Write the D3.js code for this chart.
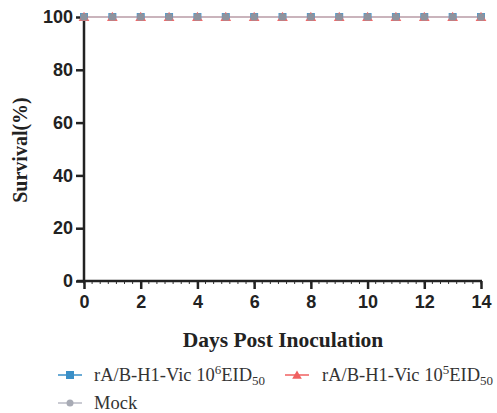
<!DOCTYPE html>
<html><head><meta charset="utf-8">
<script src="https://cdn.jsdelivr.net/npm/d3@7"></script>
<style>body{margin:0;background:#fff}svg{display:block}</style>
</head><body>
<svg id="c" width="497" height="413"></svg>
<script>
const days = [0,1,2,3,4,5,6,7,8,9,10,11,12,13,14];
const highDose = [100,100,100,100,100,100,100,100,100,100,100,100,100,100,100];
const lowDose  = [100,100,100,100,100,100,100,100,100,100,100,100,100,100,100];
const mock     = [100,100,100,100,100,100,100,100,100,100,100,100,100,100,100];
const xTicks = [0,2,4,6,8,10,12,14];
const yTicks = [0,20,40,60,80,100];
const seriesNames = ["rA/B-H1-Vic 10", "rA/B-H1-Vic 10", "Mock"];

const svg = d3.select("#c");
const x = d3.scaleLinear().domain([0,14]).range([84,481]);
const y = d3.scaleLinear().domain([0,100]).range([281,17]);

// minor x ticks
const minor = d3.range(0, 14.0001, 2/7);
svg.append("g").selectAll("line").data(minor).join("line")
  .attr("x1", d=>x(d)).attr("x2", d=>x(d)).attr("y1", 281).attr("y2", 284)
  .attr("stroke","#333").attr("stroke-width",1);

// x axis
const xa = svg.append("g").attr("transform","translate(0,281)")
  .call(d3.axisBottom(x).tickValues(xTicks).tickSize(8).tickPadding(6).tickFormat(d3.format("d")));
xa.select(".domain").remove();
xa.append("line").attr("x1",77).attr("x2",482).attr("stroke","#222").attr("stroke-width",2.5);
xa.selectAll(".tick line").attr("stroke","#222").attr("stroke-width",2.5);
xa.selectAll("text").attr("font-family","Liberation Sans, Arial, sans-serif").attr("font-weight","bold")
  .attr("font-size",18).attr("fill","#222");

// y axis
const ya = svg.append("g").attr("transform","translate(84,0)")
  .call(d3.axisLeft(y).tickValues(yTicks).tickSize(8).tickPadding(3));
ya.select(".domain").remove();
ya.append("line").attr("y1",16).attr("y2",282).attr("stroke","#222").attr("stroke-width",2.5);
ya.selectAll(".tick line").attr("stroke","#222").attr("stroke-width",2.5);
ya.selectAll("text").attr("font-family","Liberation Sans, Arial, sans-serif").attr("font-weight","bold")
  .attr("font-size",18).attr("fill","#222");

// titles
svg.append("text").attr("x",283).attr("y",347).attr("text-anchor","middle")
  .attr("font-family","Liberation Serif, Times New Roman, serif").attr("font-weight","bold")
  .attr("font-size",21.5).attr("fill","#222").text("Days Post Inoculation");
svg.append("text").attr("transform","translate(27,150) rotate(-90)").attr("text-anchor","middle")
  .attr("font-family","Liberation Serif, Times New Roman, serif").attr("font-weight","bold")
  .attr("font-size",20).attr("fill","#222").text("Survival(%)");

// lines
const line = d3.line().x((d,i)=>x(days[i])).y(d=>y(d));
svg.append("path").datum(highDose).attr("d",line).attr("fill","none").attr("stroke","#3a8fc7").attr("stroke-width",1.5);
svg.append("path").datum(lowDose).attr("d",line).attr("fill","none").attr("stroke","#f06060").attr("stroke-width",1.5);
svg.append("path").datum(mock).attr("d",line).attr("fill","none").attr("stroke","#c8cad2").attr("stroke-width",1.5);

// markers
svg.append("g").selectAll("rect").data(highDose).join("rect")
  .attr("x",(d,i)=>x(days[i])-4).attr("y",d=>y(d)-4).attr("width",8).attr("height",8).attr("fill","#4a9ad0");
svg.append("g").selectAll("path").data(lowDose).join("path")
  .attr("transform",(d,i)=>`translate(${x(days[i])},${y(d)+1})`)
  .attr("d", d3.symbol(d3.symbolTriangle, 50)).attr("fill","#f06a6a");
svg.append("g").selectAll("rect").data(mock).join("rect")
  .attr("x",(d,i)=>x(days[i])-3.5).attr("y",d=>y(d)-3.5).attr("width",7).attr("height",7).attr("rx",1)
  .attr("fill","#8e939e");

// legend
const lf = "Liberation Serif, Times New Roman, serif";
function legendText(g, tx, ty, base, sup, sub){
  const t = g.append("text").attr("x",tx).attr("y",ty).attr("font-family",lf).attr("font-size",18.5).attr("fill","#333");
  t.append("tspan").text(base);
  if (sup){
    t.append("tspan").attr("dy",-7).attr("font-size",13).text(sup);
    t.append("tspan").attr("dy",7).text("EID");
    t.append("tspan").attr("dy",4).attr("font-size",13).text(sub);
  }
}
const lg = svg.append("g");
// entry 1
lg.append("line").attr("x1",58).attr("x2",82).attr("y1",375).attr("y2",375).attr("stroke","#3a8fc7").attr("stroke-width",1.5);
lg.append("rect").attr("x",66).attr("y",371).attr("width",8).attr("height",8).attr("fill","#3a8fc7");
legendText(lg, 94, 381, seriesNames[0], "6", "50");
// entry 2
lg.append("line").attr("x1",285).attr("x2",309).attr("y1",375).attr("y2",375).attr("stroke","#f06060").attr("stroke-width",1.5);
lg.append("path").attr("transform","translate(297,376)").attr("d",d3.symbol(d3.symbolTriangle,40)).attr("fill","#f06060");
legendText(lg, 322, 381, seriesNames[1], "5", "50");
// entry 3
lg.append("line").attr("x1",58).attr("x2",82).attr("y1",403).attr("y2",403).attr("stroke","#b8bac4").attr("stroke-width",1.5);
lg.append("circle").attr("cx",70).attr("cy",403).attr("r",3.5).attr("fill","#a8abb5");
legendText(lg, 94, 409, seriesNames[2]);
</script>
</body></html>
